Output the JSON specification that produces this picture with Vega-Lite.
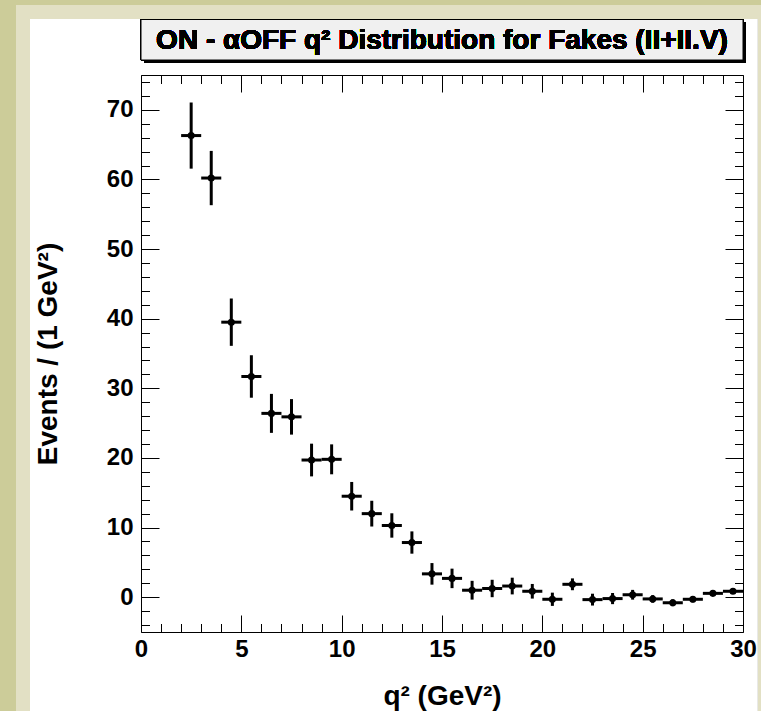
{
  "$schema": "https://vega.github.io/schema/vega-lite/v6.json",
  "width": 602,
  "height": 557,
  "autosize": {"type": "none"},
  "padding": {"left": 141, "top": 75, "right": 18, "bottom": 79},
  "background": "#cccc99",
  "config": {
    "view": {"stroke": "black", "strokeWidth": 1},
    "font": "Liberation Sans"
  },
  "data": {
    "values": [
      {"q": 2.5, "qlo": 2, "qhi": 3, "n": 66.3, "nlo": 61.55, "nhi": 71.05},
      {"q": 3.5, "qlo": 3, "qhi": 4, "n": 60.2, "nlo": 56.3, "nhi": 64.1},
      {"q": 4.5, "qlo": 4, "qhi": 5, "n": 39.5, "nlo": 36.1, "nhi": 42.9},
      {"q": 5.5, "qlo": 5, "qhi": 6, "n": 31.7, "nlo": 28.65, "nhi": 34.75},
      {"q": 6.5, "qlo": 6, "qhi": 7, "n": 26.4, "nlo": 23.6, "nhi": 29.2},
      {"q": 7.5, "qlo": 7, "qhi": 8, "n": 25.9, "nlo": 23.35, "nhi": 28.45},
      {"q": 8.5, "qlo": 8, "qhi": 9, "n": 19.7, "nlo": 17.35, "nhi": 22.05},
      {"q": 9.5, "qlo": 9, "qhi": 10, "n": 19.8, "nlo": 17.65, "nhi": 21.95},
      {"q": 10.5, "qlo": 10, "qhi": 11, "n": 14.5, "nlo": 12.45, "nhi": 16.55},
      {"q": 11.5, "qlo": 11, "qhi": 12, "n": 12.0, "nlo": 10.15, "nhi": 13.85},
      {"q": 12.5, "qlo": 12, "qhi": 13, "n": 10.3, "nlo": 8.55, "nhi": 12.05},
      {"q": 13.5, "qlo": 13, "qhi": 14, "n": 7.85, "nlo": 6.25, "nhi": 9.45},
      {"q": 14.5, "qlo": 14, "qhi": 15, "n": 3.35, "nlo": 1.8, "nhi": 4.9},
      {"q": 15.5, "qlo": 15, "qhi": 16, "n": 2.7, "nlo": 1.3, "nhi": 4.1},
      {"q": 16.5, "qlo": 16, "qhi": 17, "n": 1.0, "nlo": -0.35, "nhi": 2.35},
      {"q": 17.5, "qlo": 17, "qhi": 18, "n": 1.25, "nlo": 0.0, "nhi": 2.5},
      {"q": 18.5, "qlo": 18, "qhi": 19, "n": 1.6, "nlo": 0.4, "nhi": 2.8},
      {"q": 19.5, "qlo": 19, "qhi": 20, "n": 0.85, "nlo": -0.2, "nhi": 1.9},
      {"q": 20.5, "qlo": 20, "qhi": 21, "n": -0.3, "nlo": -1.25, "nhi": 0.65},
      {"q": 21.5, "qlo": 21, "qhi": 22, "n": 1.85, "nlo": 1.0, "nhi": 2.7},
      {"q": 22.5, "qlo": 22, "qhi": 23, "n": -0.35, "nlo": -1.2, "nhi": 0.5},
      {"q": 23.5, "qlo": 23, "qhi": 24, "n": -0.2, "nlo": -1.0, "nhi": 0.6},
      {"q": 24.5, "qlo": 24, "qhi": 25, "n": 0.35, "nlo": -0.35, "nhi": 1.05},
      {"q": 25.5, "qlo": 25, "qhi": 26, "n": -0.25, "nlo": -0.8, "nhi": 0.3},
      {"q": 26.5, "qlo": 26, "qhi": 27, "n": -0.8, "nlo": -1.3, "nhi": -0.3},
      {"q": 27.5, "qlo": 27, "qhi": 28, "n": -0.3, "nlo": -0.75, "nhi": 0.15},
      {"q": 28.5, "qlo": 28, "qhi": 29, "n": 0.55, "nlo": 0.15, "nhi": 0.95},
      {"q": 29.5, "qlo": 29, "qhi": 30, "n": 0.85, "nlo": 0.45, "nhi": 1.25}
    ]
  },
  "resolve": {"axis": {"x": "independent", "y": "independent"}},
  "layer": [
    {
      "mark": {"type": "rect", "fill": "#e2e0c4", "strokeWidth": 0},
      "encoding": {
        "x": {"datum": -6.23, "type": "quantitative", "scale": {"domain": [0, 30], "nice": false, "zero": false}, "axis": null},
        "x2": {"datum": 32},
        "y": {"datum": 85.05, "type": "quantitative", "scale": {"domain": [-5, 75], "nice": false, "zero": false}, "axis": null},
        "y2": {"datum": -20}
      }
    },
    {
      "mark": {"type": "rect", "fill": "white", "strokeWidth": 0},
      "encoding": {
        "x": {"datum": -5.53, "type": "quantitative", "axis": null},
        "x2": {"datum": 30.7},
        "y": {"datum": 83.04, "type": "quantitative", "axis": null},
        "y2": {"datum": -20}
      }
    },
    {
      "mark": {"type": "rect", "fill": "black", "xOffset": 3, "yOffset": 3, "x2Offset": 3, "y2Offset": 3},
      "encoding": {
        "x": {"datum": 0, "type": "quantitative", "axis": null},
        "x2": {"datum": 30},
        "y": {"datum": 82.97, "type": "quantitative", "axis": null},
        "y2": {"datum": 77.15}
      }
    },
    {
      "mark": {"type": "rect", "fill": "#f0f0f0", "stroke": "black", "strokeWidth": 1},
      "encoding": {
        "x": {"datum": 0, "type": "quantitative", "axis": null},
        "x2": {"datum": 30},
        "y": {"datum": 82.97, "type": "quantitative", "axis": null},
        "y2": {"datum": 77.15}
      }
    },
    {
      "mark": {"type": "text", "text": "ON - αOFF q² Distribution for Fakes (II+II.V)", "font": "Liberation Sans", "fontWeight": "bold", "fontSize": 28, "align": "center", "baseline": "middle", "color": "black", "dy": 1},
      "encoding": {
        "x": {"datum": 15, "type": "quantitative", "axis": null},
        "y": {"datum": 80.06, "type": "quantitative", "axis": null}
      }
    },
    {
      "mark": {"type": "rule", "color": "black", "strokeWidth": 3},
      "encoding": {
        "x": {
          "field": "qlo", "type": "quantitative",
          "axis": {
            "orient": "bottom", "zindex": 1,
            "values": [0,1,2,3,4,5,6,7,8,9,10,11,12,13,14,15,16,17,18,19,20,21,22,23,24,25,26,27,28,29,30],
            "tickSize": {"condition": {"test": "datum.value % 5 === 0", "value": -17}, "value": -8.5},
            "tickColor": "black", "tickWidth": 1,
            "domainColor": "black", "domainWidth": 1,
            "grid": false,
            "labelExpr": "datum.value % 5 === 0 ? datum.label : ''",
            "labelFont": "Liberation Sans", "labelFontWeight": "bold", "labelFontSize": 24, "labelColor": "black",
            "labelPadding": 22, "labelFlush": false, "labelOverlap": false,
            "title": "q² (GeV²)",
            "titleFont": "Liberation Sans", "titleFontWeight": "bold", "titleFontSize": 28, "titleColor": "black",
            "titleY": 72, "titleBaseline": "alphabetic"
          }
        },
        "x2": {"field": "qhi"},
        "y": {
          "field": "n", "type": "quantitative",
          "axis": {
            "orient": "left", "zindex": 1,
            "values": [-4,-2,0,2,4,6,8,10,12,14,16,18,20,22,24,26,28,30,32,34,36,38,40,42,44,46,48,50,52,54,56,58,60,62,64,66,68,70,72,74],
            "tickSize": {"condition": {"test": "datum.value % 10 === 0", "value": -18}, "value": -8.5},
            "tickColor": "black", "tickWidth": 1,
            "domainColor": "black", "domainWidth": 1,
            "grid": false,
            "labelExpr": "datum.value % 10 === 0 ? datum.label : ''",
            "labelFont": "Liberation Sans", "labelFontWeight": "bold", "labelFontSize": 24, "labelColor": "black",
            "labelPadding": 26, "labelFlush": false, "labelOverlap": false,
            "title": "Events / (1 GeV²)",
            "titleFont": "Liberation Sans", "titleFontWeight": "bold", "titleFontSize": 28, "titleColor": "black",
            "titleX": -85, "titleBaseline": "alphabetic"
          }
        }
      }
    },
    {
      "mark": {"type": "rule", "color": "black", "strokeWidth": 3},
      "encoding": {
        "x": {
          "field": "q", "type": "quantitative",
          "axis": {
            "orient": "top", "zindex": 1,
            "values": [0,1,2,3,4,5,6,7,8,9,10,11,12,13,14,15,16,17,18,19,20,21,22,23,24,25,26,27,28,29,30],
            "tickSize": {"condition": {"test": "datum.value % 5 === 0", "value": -17}, "value": -8.5},
            "tickColor": "black", "tickWidth": 1,
            "domainColor": "black", "domainWidth": 1,
            "grid": false, "labels": false, "title": null
          }
        },
        "y": {
          "field": "nlo", "type": "quantitative",
          "axis": {
            "orient": "right", "zindex": 1,
            "values": [-4,-2,0,2,4,6,8,10,12,14,16,18,20,22,24,26,28,30,32,34,36,38,40,42,44,46,48,50,52,54,56,58,60,62,64,66,68,70,72,74],
            "tickSize": {"condition": {"test": "datum.value % 10 === 0", "value": -18}, "value": -8.5},
            "tickColor": "black", "tickWidth": 1,
            "domainColor": "black", "domainWidth": 1,
            "grid": false, "labels": false, "title": null
          }
        },
        "y2": {"field": "nhi"}
      }
    },
    {
      "mark": {"type": "point", "filled": true, "shape": "circle", "size": 50, "color": "black", "opacity": 1},
      "encoding": {
        "x": {"field": "q", "type": "quantitative", "axis": null},
        "y": {"field": "n", "type": "quantitative", "axis": null}
      }
    }
  ]
}
